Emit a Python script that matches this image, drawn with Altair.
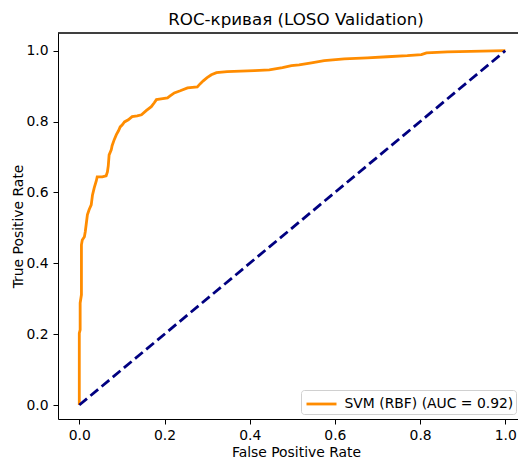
import altair as alt
import pandas as pd

# ROC curve points
fpr = [0.0, 0.0, 0.002, 0.002, 0.005, 0.005, 0.007, 0.012, 0.014, 0.016, 0.019,
       0.023, 0.028, 0.031, 0.035, 0.040, 0.042, 0.054, 0.063, 0.066, 0.068,
       0.070, 0.075, 0.077, 0.082, 0.087, 0.092, 0.096, 0.101, 0.106, 0.115,
       0.124, 0.136, 0.146, 0.157, 0.169, 0.176, 0.181, 0.192, 0.207, 0.214,
       0.223, 0.237, 0.254, 0.277, 0.284, 0.291, 0.300, 0.310, 0.322, 0.347,
       0.411, 0.446, 0.477, 0.498, 0.516, 0.545, 0.575, 0.622, 0.676, 0.723,
       0.770, 0.803, 0.815, 0.864, 1.0]
tpr = [0.0, 0.203, 0.212, 0.288, 0.311, 0.452, 0.466, 0.475, 0.489, 0.508, 0.537,
       0.551, 0.565, 0.593, 0.613, 0.633, 0.644, 0.644, 0.647, 0.658, 0.675,
       0.706, 0.720, 0.732, 0.749, 0.763, 0.774, 0.785, 0.791, 0.799, 0.805,
       0.814, 0.816, 0.819, 0.831, 0.842, 0.853, 0.862, 0.864, 0.867, 0.873,
       0.881, 0.887, 0.895, 0.898, 0.907, 0.915, 0.924, 0.932, 0.938, 0.941,
       0.944, 0.946, 0.952, 0.958, 0.960, 0.966, 0.972, 0.977, 0.980, 0.983,
       0.986, 0.989, 0.994, 0.997, 1.0]
series_label = "SVM (RBF) (AUC = 0.92)"
diag = [0.0, 1.0]
ticks = [0.0, 0.2, 0.4, 0.6, 0.8, 1.0]

roc = pd.DataFrame({"fpr": fpr, "tpr": tpr, "order": list(range(len(fpr))),
                    "series": [series_label] * len(fpr)})
diag_df = pd.DataFrame({"fpr": diag, "tpr": diag})

FONT = "DejaVu Sans"
W, H = 460, 386
FS = 13.9

xscale = alt.Scale(domain=[-0.05, 1.0298], nice=False, zero=False)
yscale = alt.Scale(domain=[-0.0395, 1.05], nice=False, zero=False)

common_axis = dict(grid=False, domainColor="black", domainWidth=1, tickColor="black",
                   tickWidth=1, tickSize=5, labelFontSize=FS, labelFont=FONT,
                   labelColor="black", titleFont=FONT, titleFontSize=FS,
                   titleFontWeight="normal", titleColor="black", labelFlush=False,
                   format=".1f", values=ticks)

xaxis = alt.Axis(title="False Positive Rate", labelPadding=4, titleX=238, titleY=37,
                 titleBaseline="alphabetic", titleAlign="center", **common_axis)
yaxis = alt.Axis(title="True Positive Rate", labelPadding=5, titleX=-36, titleY=193,
                 titleBaseline="alphabetic", titleAlign="center", titleAngle=270,
                 **common_axis)

line = alt.Chart(roc).mark_line(strokeWidth=2.8).encode(
    x=alt.X("fpr:Q", scale=xscale, axis=xaxis),
    y=alt.Y("tpr:Q", scale=yscale, axis=yaxis),
    order="order:Q",
    color=alt.Color("series:N", scale=alt.Scale(range=["#ff8c00"]),
                    legend=alt.Legend(title=None, orient="none", legendX=243, legendY=357,
                                      symbolType="M-1.5,0H1.5", symbolSize=400,
                                      symbolOffset=6.5, symbolStrokeWidth=2.8,
                                      labelFontSize=FS, labelFont=FONT,
                                      labelColor="black", labelLimit=400, padding=2.5,
                                      labelOffset=11.5, fillColor="white",
                                      strokeColor="#d0d0d0", cornerRadius=3)),
)

diag_line = alt.Chart(diag_df).mark_line(color="#000080", strokeWidth=2.8,
                                          strokeDash=[10, 4.5]).encode(
    x=alt.X("fpr:Q", scale=xscale),
    y=alt.Y("tpr:Q", scale=yscale),
)

top_rule = alt.Chart(diag_df).mark_rule(color="black", strokeWidth=1).encode(
    x=alt.value(0), x2=alt.value(W), y=alt.value(0)
)

chart = alt.layer(line, diag_line, top_rule).properties(
    width=W, height=H,
    title=alt.Title("ROC-кривая (LOSO Validation)", font=FONT, fontSize=16.7,
                    fontWeight="normal", color="black", anchor="middle", offset=7,
                    baseline="alphabetic", dx=8, dy=16),
    autosize=alt.AutoSizeParams(type="none"),
    padding={"left": 50, "top": 25, "right": 0, "bottom": 39},
).configure_view(stroke=None)

chart.save("out.html", embed_options={"renderer": "svg", "actions": False})
